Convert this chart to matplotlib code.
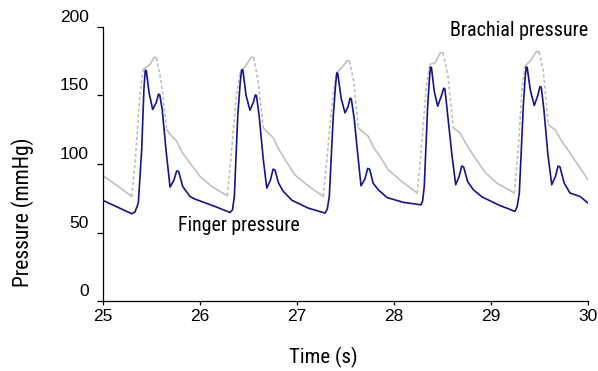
import numpy as np
import matplotlib
matplotlib.use("Agg")
import matplotlib.pyplot as plt
import matplotlib.transforms as mtransforms

# ---- data (time in s, pressure in mmHg) ----
finger_t = [25.000, 25.150, 25.296, 25.330, 25.364, 25.399, 25.422, 25.436, 25.447, 25.475, 25.512, 25.550, 25.572, 25.585,
            25.610, 25.650, 25.691, 25.730, 25.760, 25.780, 25.822, 25.897, 25.948,
            26.155, 26.309, 26.335, 26.354, 26.389, 26.415, 26.430, 26.442, 26.475, 26.515, 26.550, 26.570, 26.582,
            26.610, 26.650, 26.688, 26.725, 26.753, 26.773, 26.810, 26.859,
            26.948, 27.116, 27.289, 27.312, 27.333, 27.374, 27.398, 27.410, 27.420, 27.455, 27.495, 27.527, 27.547, 27.560,
            27.590, 27.625, 27.660, 27.700, 27.729, 27.749, 27.785, 27.838,
            27.928, 28.096, 28.278, 28.295, 28.312, 28.347, 28.366, 28.376, 28.386, 28.415, 28.450, 28.490, 28.512, 28.525,
            28.550, 28.595, 28.636, 28.672, 28.698, 28.718, 28.760, 28.818,
            28.907, 29.075, 29.247, 29.270, 29.292, 29.333, 29.352, 29.363, 29.373, 29.405, 29.446, 29.482, 29.505, 29.518,
            29.545, 29.585, 29.626, 29.665, 29.691, 29.711, 29.755, 29.814, 29.918, 30.000]
finger_p = [73.4, 68.5, 63.7, 65.0, 71.5, 110.5, 155.0, 168.5, 168.0, 152.0, 139.8, 145.0, 151.0, 150.5,
            140.0, 110.0, 83.2, 88.0, 95.0, 94.5, 83.6, 76.3, 74.4,
            69.0, 64.6, 66.5, 76.3, 134.9, 160.0, 168.8, 168.5, 150.0, 139.3, 145.0, 150.4, 150.0,
            135.0, 105.0, 82.4, 88.0, 96.2, 95.6, 86.0, 80.0,
            73.5, 67.8, 64.2, 67.0, 76.3, 134.9, 158.0, 166.5, 166.2, 148.0, 137.3, 142.0, 148.0, 147.5,
            133.0, 108.0, 84.1, 89.0, 96.8, 96.2, 86.0, 81.2,
            75.5, 72.0, 70.2, 73.0, 83.6, 142.2, 163.0, 170.8, 170.5, 153.0, 142.2, 150.0, 155.3, 154.8,
            138.0, 108.0, 84.9, 91.0, 98.5, 97.8, 87.0, 81.2,
            76.0, 70.2, 65.4, 69.0, 78.8, 142.2, 163.0, 170.8, 170.5, 154.0, 142.7, 150.0, 156.5, 156.0,
            140.0, 108.0, 84.9, 91.0, 98.5, 97.8, 86.0, 78.8, 76.3, 71.5]

brachial_t = [25.000, 25.150, 25.296, 25.330, 25.380, 25.415, 25.485, 25.530, 25.552, 25.600, 25.657, 25.700,
              25.760, 25.820, 25.897, 26.000,
              26.121, 26.281, 26.320, 26.375, 26.412, 26.481, 26.530, 26.555, 26.600, 26.653, 26.700,
              26.756, 26.810, 26.876, 26.979,
              27.100, 27.271, 27.310, 27.370, 27.409, 27.461, 27.518, 27.542, 27.585, 27.632, 27.680,
              27.735, 27.790, 27.856, 27.938,
              28.079, 28.240, 28.280, 28.335, 28.371, 28.423, 28.480, 28.505, 28.555, 28.612, 28.640,
              28.680, 28.740, 28.801, 28.938,
              29.059, 29.240, 29.280, 29.320, 29.351, 29.402, 29.470, 29.495, 29.540, 29.591, 29.620,
              29.660, 29.735, 29.814, 30.000]
brachial_p = [91.5, 84.0, 76.3, 100.0, 150.0, 169.0, 172.7, 178.0, 177.5, 160.0, 125.0, 121.0,
              116.6, 108.0, 100.7, 91.0,
              83.6, 76.8, 105.0, 150.0, 166.6, 172.7, 178.0, 177.5, 160.0, 126.4, 123.0,
              119.0, 111.0, 103.2, 92.0,
              84.9, 76.3, 105.0, 150.0, 166.6, 170.3, 175.5, 175.0, 160.0, 126.4, 123.5,
              120.2, 112.0, 105.6, 96.0,
              87.3, 78.8, 110.0, 158.0, 172.7, 173.9, 181.5, 181.0, 165.0, 126.4, 125.0,
              122.7, 115.0, 108.1, 94.0,
              86.1, 78.8, 110.0, 155.0, 171.4, 175.1, 182.2, 181.8, 168.0, 128.8, 127.0,
              125.1, 116.0, 108.1, 88.5]

x_ticks = [25, 26, 27, 28, 29, 30]
y_ticks = [0, 50, 100, 150, 200]
x_label = "Time (s)"
y_label = "Pressure (mmHg)"
label_finger = "Finger pressure"
label_brachial = "Brachial pressure"

# ---- styling ----
narrow = ["Roboto Condensed", "Archivo Narrow", "PT Sans Narrow", "Liberation Sans Narrow",
          "Fira Sans Condensed", "IBM Plex Sans Condensed", "Liberation Sans", "DejaVu Sans"]
regular = ["Liberation Sans", "Arimo", "DejaVu Sans"]
plt.rcParams["font.family"] = regular

blue = "#14148c"
grey = "#c0c0c0"

fig = plt.figure(figsize=(5.98, 3.71), dpi=100)
ax = fig.add_axes([103 / 598, 1 - 301 / 371, 485 / 598, 274 / 371])

# brachial: dotted on steep strokes, solid elsewhere
bt = np.asarray(brachial_t)
bp = np.asarray(brachial_p)
slope = np.abs(np.diff(bp) / np.diff(bt))
steep = slope > 300
start = 0
for i in range(1, len(steep) + 1):
    if i == len(steep) or steep[i] != steep[start]:
        seg = slice(start, i + 1)
        ax.plot(bt[seg], bp[seg], color=grey, lw=1.2,
                ls=(0, (2.0, 1.4)) if steep[start] else "-",
                solid_capstyle="round", zorder=2)
        start = i

ax.plot(finger_t, finger_p, color=blue, lw=1.2, zorder=3, solid_joinstyle="round")

ax.set_xlim(25, 30)
ax.set_ylim(0, 200)
ax.set_xticks(x_ticks)
ax.set_yticks(y_ticks)
ax.set_xticklabels([str(v) for v in x_ticks])
ax.set_yticklabels([str(v) for v in y_ticks])

for s in ["top", "right"]:
    ax.spines[s].set_visible(False)
for s in ["left", "bottom"]:
    ax.spines[s].set_linewidth(0.9)
    ax.spines[s].set_color("black")

ax.tick_params(axis="y", direction="out", length=4, width=0.9, pad=6, labelsize=12.5)
ax.tick_params(axis="x", direction="out", length=3, width=0.9, pad=2.5, labelsize=12.5)

offset = mtransforms.ScaledTranslation(0, 0.11, fig.dpi_scale_trans)
for lab in ax.get_yticklabels():
    lab.set_transform(lab.get_transform() + offset)

ax.set_xlabel(x_label, family=narrow, fontsize=15)
ax.xaxis.set_label_coords((323 - 103) / 485, (301 - 357) / 274)
ax.xaxis.label.set_va("center")
ax.set_ylabel(y_label, family=narrow, fontsize=15.5)
ax.yaxis.set_label_coords((23 - 103) / 485, (301 - 212) / 274)
ax.yaxis.label.set_va("center")
ax.yaxis.label.set_ha("center")

ax.text(25.0 + (178 - 103) / 97, (301 - 226) / 1.3667, label_finger, family=narrow,
        fontsize=14.3, ha="left", va="center")
ax.text(25.0 + (588 - 103) / 97, (301 - 31) / 1.3667, label_brachial, family=narrow,
        fontsize=14.5, ha="right", va="center", clip_on=False)

fig.savefig("out.png", dpi=100)
